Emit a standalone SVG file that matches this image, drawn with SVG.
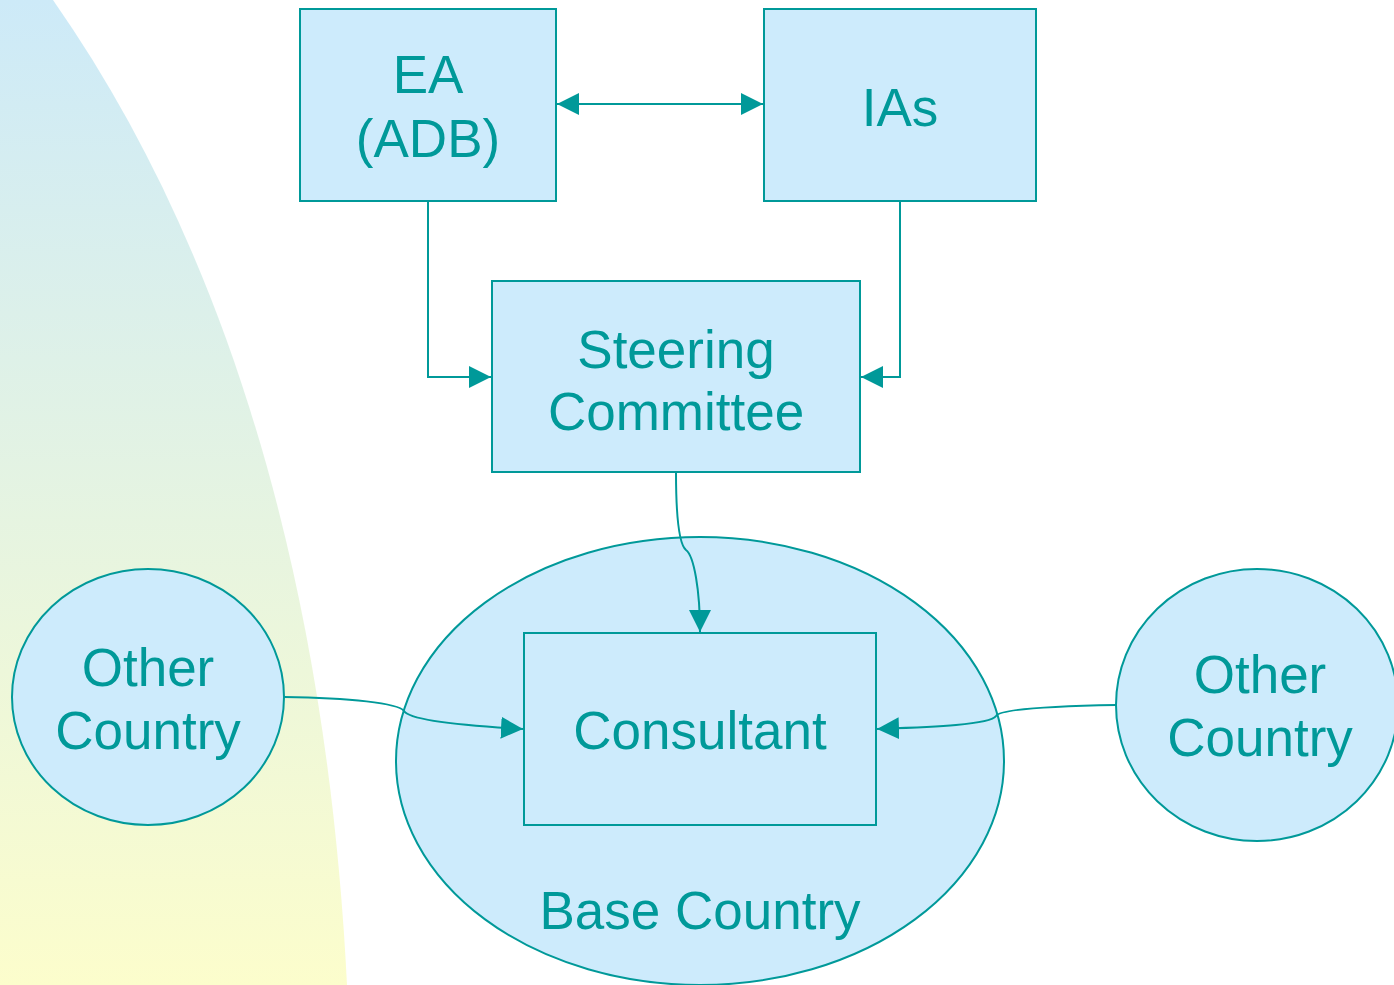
<svg xmlns="http://www.w3.org/2000/svg" width="1394" height="985" viewBox="0 0 1394 985">
  <defs>
    <linearGradient id="bg" x1="0" y1="0" x2="0" y2="1">
      <stop offset="0" stop-color="#cdeaf8"/>
      <stop offset="1" stop-color="#fcfdcc"/>
    </linearGradient>
    <marker id="arr" markerUnits="userSpaceOnUse" markerWidth="22" markerHeight="22" viewBox="0 0 20 20" refX="20" refY="10" orient="auto-start-reverse">
      <path d="M0,0 L20,10 L0,20 Z" fill="#009999"/>
    </marker>
    <style>
      .node { fill: #cdebfc; stroke: #009999; stroke-width: 2; }
      .lbl { font-family: "Liberation Sans", Arial, sans-serif; font-size: 53px; fill: #009999; text-anchor: middle; }
      .conn { fill: none; stroke: #009999; stroke-width: 2; }
    </style>
  </defs>
  <rect x="0" y="0" width="1394" height="985" fill="#ffffff"/>
  <path d="M53,0 C228,250 327,585 347,985 L0,985 L0,0 Z" fill="url(#bg)"/>

  <g id="base-country">
    <ellipse class="node" cx="700" cy="761" rx="304" ry="224"/>
    <text class="lbl" x="700" y="929">Base Country</text>
  </g>
  <g id="other-country-left">
    <ellipse class="node" cx="148" cy="697" rx="136" ry="128"/>
    <text class="lbl" x="148" y="686">Other</text>
    <text class="lbl" x="148" y="749">Country</text>
  </g>
  <g id="other-country-right">
    <ellipse class="node" cx="1257" cy="705" rx="141" ry="136"/>
    <text class="lbl" x="1260" y="693">Other</text>
    <text class="lbl" x="1260" y="756">Country</text>
  </g>

  <g id="ea">
    <rect class="node" x="300" y="9" width="256" height="192"/>
    <text class="lbl" x="428" y="93">EA</text>
    <text class="lbl" x="428" y="157">(ADB)</text>
  </g>
  <g id="ias">
    <rect class="node" x="764" y="9" width="272" height="192"/>
    <text class="lbl" x="900" y="126">IAs</text>
  </g>
  <g id="steering-committee">
    <rect class="node" x="492" y="281" width="368" height="191"/>
    <text class="lbl" x="676" y="368">Steering</text>
    <text class="lbl" x="676" y="430">Committee</text>
  </g>
  <g id="consultant">
    <rect class="node" x="524" y="633" width="352" height="192"/>
    <text class="lbl" x="700" y="749">Consultant</text>
  </g>

  <g id="connectors">
    <path class="conn" d="M557,104 L763,104" marker-start="url(#arr)" marker-end="url(#arr)"/>
    <path class="conn" d="M428,201 L428,377 L491,377" marker-end="url(#arr)"/>
    <path class="conn" d="M900,201 L900,377 L861,377" marker-end="url(#arr)"/>
    <path class="conn" d="M676,472 C676,520 680,545 686,550 C694,556 700,590 700,632" marker-end="url(#arr)"/>
    <path class="conn" d="M284,697 C350,698 398,703 404,711 C410,721 470,726 523,729" marker-end="url(#arr)"/>
    <path class="conn" d="M1116,705 C1060,706 1000,709 996,716 C990,725 930,727 877,729" marker-end="url(#arr)"/>
  </g>
</svg>
